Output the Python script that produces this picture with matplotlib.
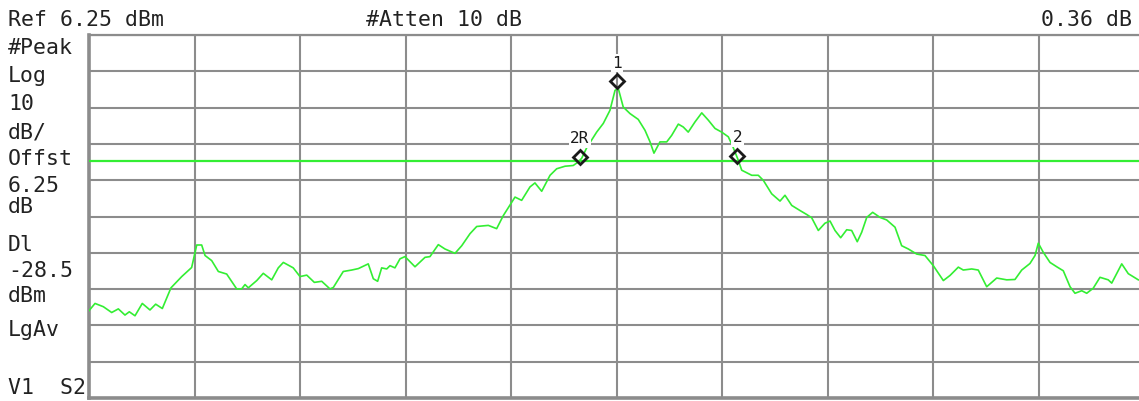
import matplotlib
matplotlib.use("Agg")
import matplotlib.pyplot as plt
import matplotlib.transforms as mtransforms

# trace: frequency in divisions (0..10), level in dBm
freq_div = [0.0, 0.057, 0.136, 0.215, 0.278, 0.341, 0.382, 0.436, 0.505, 0.578,
            0.632, 0.695, 0.777, 0.879, 0.973, 1.021, 1.068, 1.100, 1.163, 1.226,
            1.305, 1.400, 1.447, 1.479, 1.510, 1.590, 1.652, 1.732, 1.794, 1.842,
            1.936, 2.000, 2.064, 2.136, 2.206, 2.284, 2.316, 2.410, 2.490, 2.553,
            2.647, 2.695, 2.736, 2.774, 2.822, 2.853, 2.900, 2.948, 2.995, 3.090,
            3.185, 3.232, 3.311, 3.374, 3.469, 3.533, 3.611, 3.675, 3.785, 3.864,
            3.927, 4.007, 4.038, 4.101, 4.180, 4.227, 4.291, 4.370, 4.433, 4.512,
            4.590, 4.638, 4.670, 4.718, 4.812, 4.875, 4.938, 4.986, 5.017, 5.064,
            5.128, 5.206, 5.270, 5.318, 5.355, 5.412, 5.476, 5.523, 5.586, 5.633,
            5.680, 5.744, 5.808, 5.870, 5.934, 5.997, 6.060, 6.107, 6.155, 6.187,
            6.282, 6.344, 6.392, 6.471, 6.550, 6.597, 6.661, 6.739, 6.803, 6.850,
            6.913, 6.976, 7.024, 7.071, 7.125, 7.182, 7.229, 7.282, 7.324, 7.372,
            7.428, 7.498, 7.561, 7.640, 7.703, 7.766, 7.846, 7.924, 8.003, 8.098,
            8.161, 8.240, 8.287, 8.367, 8.429, 8.509, 8.604, 8.699, 8.777, 8.841,
            8.919, 8.967, 8.998, 9.045, 9.109, 9.173, 9.235, 9.299, 9.346, 9.410,
            9.457, 9.519, 9.583, 9.661, 9.694, 9.789, 9.851, 9.946, 10.0]
level_dbm = [-69.7, -67.7, -68.6, -70.2, -69.2, -70.9, -70.0, -71.1, -67.7, -69.5,
             -67.9, -69.1, -63.4, -60.3, -57.8, -51.6, -51.6, -54.5, -55.9, -58.9,
             -59.6, -63.7, -63.7, -62.5, -63.4, -61.4, -59.4, -61.2, -57.9, -56.4,
             -57.9, -60.3, -59.9, -61.9, -61.6, -63.7, -63.3, -58.9, -58.5, -58.1,
             -56.8, -60.9, -61.6, -57.9, -58.2, -57.3, -57.9, -55.4, -54.8, -57.6,
             -55.0, -54.8, -51.5, -52.7, -53.9, -51.8, -48.5, -46.5, -46.2, -47.1,
             -43.5, -39.8, -38.4, -39.3, -35.6, -34.5, -36.8, -32.4, -30.6, -29.9,
             -29.7, -28.7, -27.7, -24.8, -20.5, -18.1, -14.5, -9.0, -8.5, -13.6,
             -15.4, -17.0, -20.0, -23.2, -26.3, -23.2, -23.2, -21.4, -18.3, -19.1,
             -20.5, -17.7, -15.2, -17.2, -19.5, -20.5, -21.8, -24.8, -28.3, -31.0,
             -32.4, -32.4, -33.8, -37.5, -39.5, -37.9, -40.7, -42.1, -43.2, -44.1,
             -47.6, -45.6, -45.0, -47.6, -49.6, -47.4, -47.6, -50.7, -48.1, -44.0,
             -42.6, -44.0, -44.7, -46.7, -51.8, -52.7, -54.1, -54.5, -57.3, -61.4,
             -60.0, -57.7, -58.5, -58.2, -58.5, -63.1, -60.7, -61.2, -61.1, -58.5,
             -56.7, -54.5, -51.1, -53.6, -56.4, -57.6, -58.7, -63.1, -64.9, -64.2,
             -64.9, -63.5, -60.5, -61.2, -62.1, -56.8, -59.5, -61.2, -61.5]

ref_level = 6.25
db_per_div = 10
display_line = -28.5

marker_names = ["1", "2R", "2"]
marker_freq = [5.005, 4.654, 6.145]
marker_level = [-8.1, -29.0, -28.64]

left_labels = ["#Peak", "Log", "10", "dB/", "Offst", "6.25", "dB",
               "Dl", "-28.5", "dBm", "LgAv", "V1  S2"]
left_baselines = [54, 82, 110, 138, 165, 192, 213, 251, 277, 302, 336, 394]

W, H = 1139, 401
mono = "DejaVu Sans Mono"
green = "#33ee33"
gridc = "#8c8c8c"
ink = "#222222"

fig = plt.figure(figsize=(W / 100, H / 100), dpi=100)
ax = fig.add_axes([89 / W, 3 / H, 1055 / W, 363 / H])

ax.set_xlim(0, 10)
ax.set_ylim(ref_level - 10 * db_per_div, ref_level)
ax.set_xticks(range(11))
ax.set_yticks([ref_level - i * db_per_div for i in range(11)])
ax.tick_params(length=0, labelbottom=False, labelleft=False)
ax.grid(True, color=gridc, linewidth=1.5)
for side, lw in [("left", 2.6), ("bottom", 2.6), ("top", 1.6), ("right", 1.6)]:
    ax.spines[side].set_color(gridc)
    ax.spines[side].set_linewidth(lw)

ax.axhline(display_line, color=green, linewidth=1.6, zorder=3)
ax.plot(freq_div, level_dbm, color=green, linewidth=1.2, zorder=4)

# diamonds sit just above the trace point, labels above the diamonds
mk_trans = mtransforms.offset_copy(ax.transData, fig=fig, y=6, units="dots")
for name, f, lv in zip(marker_names, marker_freq, marker_level):
    ax.plot([f], [lv], marker="D", markersize=7.5, markerfacecolor="none",
            markeredgecolor="#1a1a1a", markeredgewidth=2.0, transform=mk_trans,
            zorder=6, clip_on=False)
    ax.annotate(name, (f, lv), xytext=(0, 24), textcoords="offset pixels",
                ha="center", va="center", fontsize=11.5, family=mono,
                color="#1a1a1a", zorder=7,
                bbox=dict(facecolor="white", edgecolor="none", pad=1.0))


def px(x, y):
    return x / W, 1 - y / H


fig.text(*px(8, 26), "Ref 6.25 dBm", family=mono, fontsize=15.5, va="baseline", color=ink)
fig.text(*px(366, 26), "#Atten 10 dB", family=mono, fontsize=15.5, va="baseline", color=ink)
fig.text(*px(1132, 26), "0.36 dB", family=mono, fontsize=15.5, va="baseline", ha="right", color=ink)
for lab, yb in zip(left_labels, left_baselines):
    fig.text(*px(8, yb), lab, family=mono, fontsize=15.5, va="baseline", color=ink)

fig.savefig("out.png", dpi=100)
